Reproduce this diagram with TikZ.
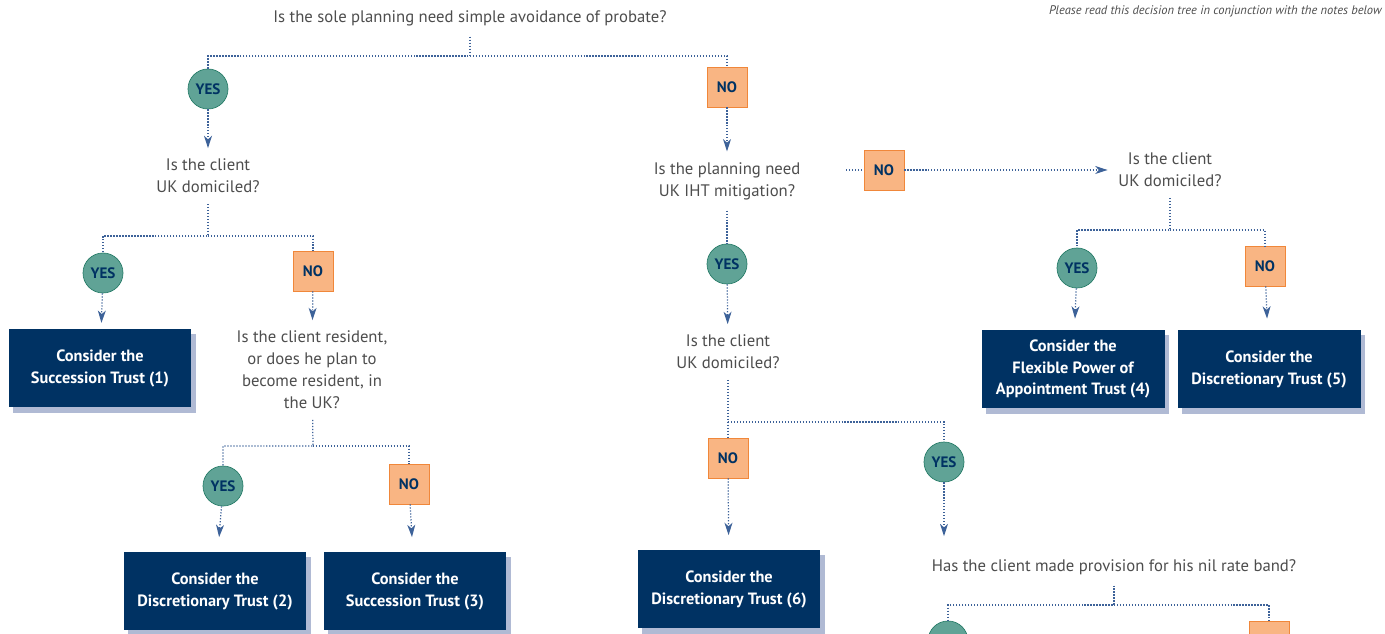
\documentclass[tikz,border=0pt]{standalone}
\usepackage{fontspec}
\setmainfont{PT Sans}
\usetikzlibrary{positioning,shadows,arrows.meta}

\definecolor{navy}{RGB}{0,50,99}
\definecolor{yesfill}{RGB}{96,163,150}
\definecolor{yesline}{RGB}{40,125,105}
\definecolor{nofill}{RGB}{249,181,131}
\definecolor{noline}{RGB}{240,135,58}
\definecolor{shade}{RGB}{176,186,212}
\definecolor{linkc}{RGB}{61,98,153}
\definecolor{qgray}{RGB}{77,77,77}

\begin{document}
\begin{tikzpicture}[x=0.02cm,y=-0.02cm,
  quest/.style={align=center,text=qgray,inner sep=6pt,font=\fontsize{9.5}{12.5}\selectfont},
  yes/.style={circle,draw=yesline,fill=yesfill,minimum size=0.8cm,inner sep=0pt,text=navy,font=\bfseries\fontsize{8.6}{9}\selectfont},
  no/.style={rectangle,draw=noline,fill=nofill,minimum size=0.8cm,inner sep=0pt,text=navy,font=\bfseries\fontsize{8.6}{9}\selectfont},
  result/.style={rectangle,fill=navy,text=white,align=center,minimum width=3.66cm,minimum height=1.58cm,
    font=\bfseries\fontsize{9.3}{12.5}\selectfont,drop shadow={shadow xshift=2.8pt,shadow yshift=-3.2pt,fill=shade,opacity=1}},
  link/.style={draw=linkc,line width=0.7pt,dash pattern=on 0.7pt off 1pt},
  arrow/.style={link,-{Stealth[length=7pt,width=4.5pt,inset=2pt]}}
]
\useasboundingbox (0,0) rectangle (1385,634);

% questions
\node[quest] (q0) at (470,18) {Is the sole planning need simple avoidance of probate?};
\node[anchor=east,text=qgray,inner sep=0pt,font=\itshape\fontsize{7.1}{9}\selectfont] (note) at (1382,11)
  {Please read this decision tree in conjunction with the notes below};
\node[quest] (q1) at (208,176) {Is the client\\UK domiciled?};
\node[quest] (q2) at (312,370) {Is the client resident,\\or does he plan to\\become resident, in\\the UK?};
\node[quest] (qiht) at (727,181) {Is the planning need\\UK IHT mitigation?};
\node[quest] (qdom) at (1170,170) {Is the client\\UK domiciled?};
\node[quest] (q4) at (728,352) {Is the client\\UK domiciled?};
\node[quest] (q5) at (1114,567) {Has the client made provision for his nil rate band?};

% answers
\node[yes] (yes0) at (208,89) {YES};
\node[no] (no0) at (727,87) {NO};
\node[yes] (yes1) at (103,273) {YES};
\node[no] (no1) at (313,271) {NO};
\node[yes] (yes2) at (223,486) {YES};
\node[no] (no2) at (409,484) {NO};
\node[no] (noiht) at (884,170) {NO};
\node[yes] (yes3) at (1077,268) {YES};
\node[no] (no3) at (1265,266) {NO};
\node[yes] (yesiht) at (727,264) {YES};
\node[no] (no4) at (728,458) {NO};
\node[yes] (yes4) at (944,462) {YES};
\node[yes] (yes5) at (948,641) {};% cut off by the page edge
\node[no] (no5) at (1269,641) {};

% outcomes
\node[result] (r1) at (100,368) {Consider the\\Succession Trust (1)};
\node[result] (r2) at (215,591) {Consider the\\Discretionary Trust (2)};
\node[result] (r3) at (415,591) {Consider the\\Succession Trust (3)};
\node[result] (r4) at (1073,369) {Consider the\\Flexible Power of\\Appointment Trust (4)};
\node[result] (r5) at (1269,369) {Consider the\\Discretionary Trust (5)};
\node[result] (r6) at (729,589) {Consider the\\Discretionary Trust (6)};

% junctions
\coordinate (j0) at (470,56);
\coordinate (j1) at (208,236);
\coordinate (j2) at (313,446);
\coordinate (j3) at (1170,230);
\coordinate (j4) at (728,422);
\coordinate (j5) at (1114,605);

\draw[link] (q0) -- (j0) -| (yes0);
\draw[link] (j0) -| (no0);
\draw[arrow] (yes0) -- (q1);
\draw[arrow] (no0) -- (qiht);

\draw[link] (q1) -- (j1) -| (yes1);
\draw[link] (j1) -| (no1);
\draw[arrow,shorten >=3pt] (yes1) -- (r1);
\draw[arrow] (no1) -- (q2);

\draw[link] (q2) -- (j2) -| (yes2);
\draw[link] (j2) -| (no2);
\draw[arrow,shorten >=8pt] (yes2) -- (r2);
\draw[arrow,shorten >=8pt] (no2) -- (r3);

\draw[link,shorten <=20pt] (qiht.east |- noiht) -- (noiht);
\draw[arrow] (noiht) -- (qdom);
\draw[link] (qdom) -- (j3) -| (yes3);
\draw[link] (j3) -| (no3);
\draw[arrow,shorten >=6pt] (yes3) -- (r4);
\draw[arrow,shorten >=6pt] (no3) -- (r5);

\draw[link] (qiht) -- (yesiht);
\draw[arrow] (yesiht) -- (q4);
\draw[link] (q4) -- (j4) -| (no4);
\draw[link] (j4) -| (yes4);
\draw[arrow,shorten >=8pt] (no4) -- (r6);
\draw[arrow,shorten >=7pt] (yes4) -- (yes4 |- q5.north);

\draw[link] (q5) -- (j5) -| (yes5);
\draw[link] (j5) -| (no5);
\end{tikzpicture}
\end{document}
